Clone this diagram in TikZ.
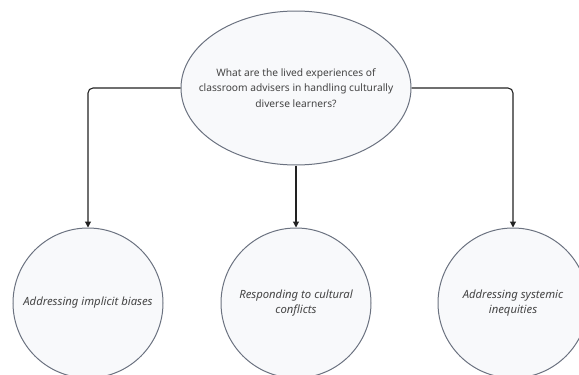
\documentclass[tikz,border=0pt]{standalone}
\usepackage{fontspec}
\setmainfont{Noto Sans}
\usetikzlibrary{shapes.geometric,arrows.meta}
\definecolor{nodefill}{HTML}{F8F9FB}
\definecolor{nodeborder}{HTML}{6B7280}
\definecolor{txt}{HTML}{444444}
\definecolor{edge}{HTML}{222222}
\begin{document}
\begin{tikzpicture}[x=1pt,y=-1pt,
  shapebox/.style={draw=nodeborder,fill=nodefill,line width=1pt,inner sep=0pt},
  label/.style={text=txt,align=center,inner sep=0pt},
  circ/.style={shapebox,circle,minimum size=150pt,text=txt,align=center,font=\fontsize{11.3}{14.5}\selectfont\itshape},
  link/.style={draw=edge,line width=1.1pt,rounded corners=5pt,-{Triangle[length=6pt,width=6pt]}}]
\useasboundingbox (0,0) rectangle (579,375);
\clip (0,0) rectangle (579,375);
\node[shapebox,ellipse,minimum width=230pt,minimum height=154pt] (q) at (296,88) {};
\node[label,font=\fontsize{10.2}{15.5}\selectfont] (qt) at (q.center)
  {What are the lived experiences of\\classroom advisers in handling culturally\\diverse learners?};
\node[circ] (a) at (88,303) {Addressing implicit biases};
\node[circ] (b) at (296,303) {Responding to cultural\\conflicts};
\node[circ] (c) at (513,303) {Addressing systemic\\inequities};
\draw[link] (q.west) -| (a.north);
\draw[link] (q.south) -- (b.north);
\draw[link] (q.east) -| (c.north);
\end{tikzpicture}
\end{document}
